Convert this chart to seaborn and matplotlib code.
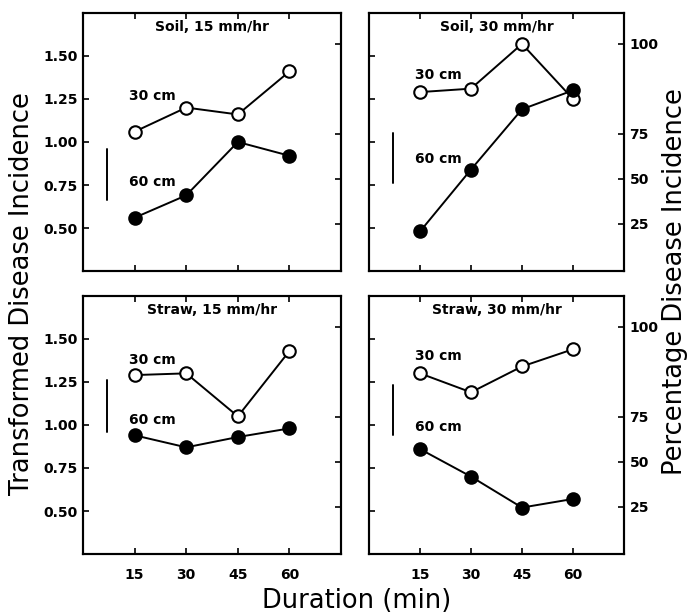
# Disease incidence vs rain duration, four panels
import numpy as np
import pandas as pd
import matplotlib.pyplot as plt
import seaborn as sns

sns.set_style("ticks")
plt.rcParams['font.family'] = ['DejaVu Sans']
plt.rcParams.update({"text.color": "black", "axes.edgecolor": "black",
                     "xtick.color": "black", "ytick.color": "black",
                     "axes.labelcolor": "black"})

# dados
duration = [15, 30, 45, 60]

soil15_30 = [1.06, 1.20, 1.16, 1.41]
soil15_60 = [0.56, 0.69, 1.00, 0.92]
soil30_30 = [1.29, 1.31, 1.57, 1.25]
soil30_60 = [0.48, 0.84, 1.19, 1.30]
straw15_30 = [1.29, 1.30, 1.05, 1.43]
straw15_60 = [0.94, 0.87, 0.93, 0.98]
straw30_30 = [1.30, 1.19, 1.34, 1.44]
straw30_60 = [0.86, 0.70, 0.52, 0.57]

panel_titles = ["Soil, 15 mm/hr", "Soil, 30 mm/hr", "Straw, 15 mm/hr", "Straw, 30 mm/hr"]
series_30 = [soil15_30, soil30_30, straw15_30, straw30_30]
series_60 = [soil15_60, soil30_60, straw15_60, straw30_60]

# barras de LSD (inferior, superior)
lsd_low = [0.66, 0.76, 0.96, 0.94]
lsd_high = [0.96, 1.05, 1.26, 1.23]
lsd_x = 7

# altura dos rotulos "30 cm" / "60 cm"
lab30_y = [1.27, 1.39, 1.38, 1.40]
lab60_y = [0.77, 0.90, 1.03, 0.99]
lab_x = 13.5

yticks = [0.50, 0.75, 1.00, 1.25, 1.50]
pct_ticks = [25, 50, 75, 100]

fig = plt.figure(figsize=(6.89, 6.16), dpi=100)
positions = [
    [0.1205, 0.560, 0.3745, 0.419],
    [0.5356, 0.560, 0.3700, 0.419],
    [0.1205, 0.1006, 0.3745, 0.419],
    [0.5356, 0.1006, 0.3700, 0.419],
]

for i in range(4):
    ax = fig.add_axes(positions[i])
    df30 = pd.DataFrame({"dur": duration, "val": series_30[i]})
    df60 = pd.DataFrame({"dur": duration, "val": series_60[i]})
    sns.lineplot(data=df30, x="dur", y="val", ax=ax, color="black", linewidth=1.4,
                 marker="o", markersize=9, markerfacecolor="white",
                 markeredgecolor="black", markeredgewidth=1.5, errorbar=None, sort=False)
    sns.lineplot(data=df60, x="dur", y="val", ax=ax, color="black", linewidth=1.4,
                 marker="o", markersize=9, markerfacecolor="black",
                 markeredgecolor="black", markeredgewidth=1.5, errorbar=None, sort=False)
    ax.plot([lsd_x, lsd_x], [lsd_low[i], lsd_high[i]], color="black", linewidth=1.4)

    ax.text(lab_x, lab30_y[i], "30 cm", fontsize=10, fontweight="bold", ha="left", va="center")
    ax.text(lab_x, lab60_y[i], "60 cm", fontsize=10, fontweight="bold", ha="left", va="center")
    ax.text(0.5, 0.945, panel_titles[i], transform=ax.transAxes, fontsize=10,
            fontweight="bold", ha="center", va="center")

    ax.set_xlim(0, 75)
    ax.set_ylim(0.25, 1.75)
    ax.set_xticks(duration)
    ax.set_yticks(yticks)
    ax.set_xlabel("")
    ax.set_ylabel("")

    # eixo da direita em porcentagem (arcoseno da raiz)
    ax2 = ax.twinx()
    ax2.set_ylim(0.25, 1.75)
    ax2.set_yticks(np.arcsin(np.sqrt(np.array(pct_ticks) / 100)))
    ax2.set_yticklabels([str(p) for p in pct_ticks])

    ax.tick_params(direction="in", length=4, width=1.2, labelsize=10, top=True, pad=4)
    ax.tick_params(axis="x", pad=10)
    ax2.tick_params(direction="in", length=4, width=1.2, labelsize=10, pad=4)

    if i in (0, 2):
        ax.set_yticklabels([f"{t:.2f}" for t in yticks])
        ax2.tick_params(labelright=False)
    else:
        ax.tick_params(labelleft=False)
    if i in (2, 3):
        ax.set_xticklabels([str(d) for d in duration])
    else:
        ax.tick_params(labelbottom=False)

    for lab in ax.get_xticklabels() + ax.get_yticklabels() + ax2.get_yticklabels():
        lab.set_fontweight("bold")
    for a in (ax, ax2):
        for s in a.spines.values():
            s.set_linewidth(1.5)

fig.text(0.032, 0.524, "Transformed Disease Incidence", rotation=90, fontsize=18.5,
         ha="center", va="center")
fig.text(0.980, 0.543, "Percentage Disease Incidence", rotation=90, fontsize=18.5,
         ha="center", va="center")
fig.text(0.518, 0.024, "Duration (min)", fontsize=18.5, ha="center", va="center")

plt.savefig("out.png", dpi=100)
